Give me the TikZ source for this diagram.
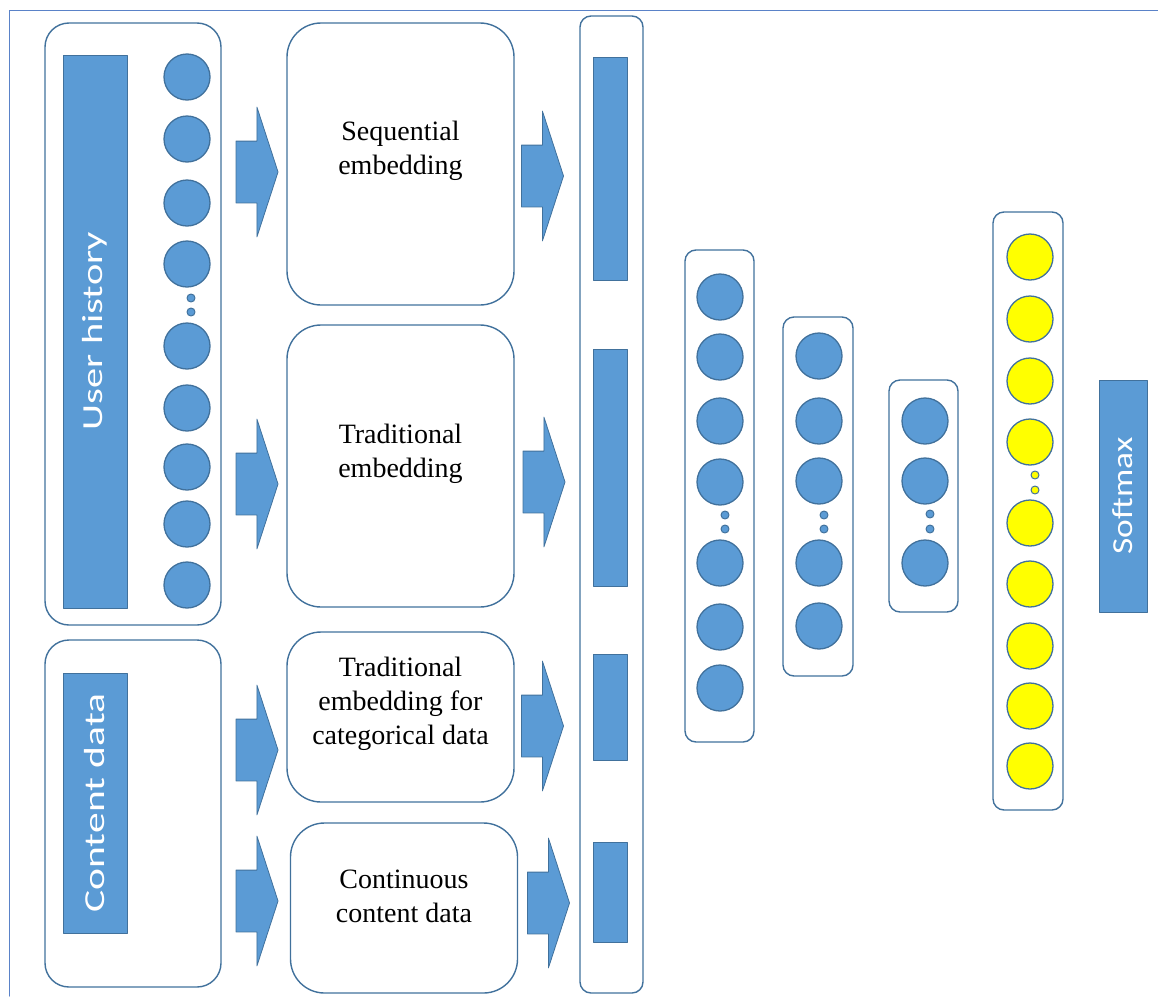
\documentclass[tikz,border=0pt]{standalone}
\usepackage{fontspec}
\setmainfont{Liberation Serif}
\newfontfamily\barfont{Carlito}
\usepackage{graphicx}
\usetikzlibrary{shapes.arrows}
\usetikzlibrary{positioning}
\definecolor{unitblue}{RGB}{91,155,213}
\definecolor{lineblue}{RGB}{65,113,156}
\definecolor{frameblue}{RGB}{90,130,200}
\definecolor{outyellow}{RGB}{255,255,0}
\begin{document}
\begin{tikzpicture}[x=1pt,y=-1pt,line cap=round,line join=round,
  panel/.style={draw=lineblue,line width=1.4pt,rounded corners=24pt,inner sep=0pt},
  embbox/.style={draw=lineblue,line width=1.4pt,rounded corners=34pt,minimum width=227,inner sep=0pt},
  layer/.style={draw=lineblue,line width=1.4pt,rounded corners=11pt,inner sep=0pt},
  bar/.style={draw=lineblue,line width=1pt,fill=unitblue,inner sep=0pt,text=white},
  unit/.style={circle,draw=lineblue,line width=1.3pt,fill=unitblue,minimum size=46,inner sep=0pt},
  outunit/.style={unit,fill=outyellow},
  gap/.style={circle,draw=lineblue,line width=1pt,fill=unitblue,minimum size=8,inner sep=0pt},
  outgap/.style={gap,fill=outyellow},
  caption/.style={align=center,font=\fontsize{28}{34}\selectfont},
  bartext/.style={rotate=90,text=white,font=\barfont\fontsize{29}{34}\selectfont},
  flow/.style={single arrow,draw=lineblue,line width=0.8pt,fill=unitblue,inner xsep=0pt,inner ysep=30.5pt,
    minimum height=42,single arrow head extend=34pt,single arrow tip angle=144,single arrow head indent=0pt}]
\useasboundingbox (0,0) rectangle (1158,996);
% outer frame
\draw [frameblue,line width=1pt] (9,996) -- (9,10) -- (1160,10);
% input side
\node[panel,minimum width=176,minimum height=602] (hist) at (133,324) {};
\node[bar,minimum width=64,minimum height=553] (histbar) at (95,331.5) {};
\node[bartext] (histtxt) at (95,331) {\resizebox{198pt}{\height}{User history}};
\foreach \y [count=\i] in {77,139,203,264,346,408,467,524,585}
  \node[unit] (h\i) at (187,\y) {};
\node[gap] (hd1) at (191,298) {};
\node[gap] (hd2) at (191,312) {};
\node[panel,minimum width=176,minimum height=347] (cont) at (133,813.5) {};
\node[bar,minimum width=64,minimum height=260] (contbar) at (95,803) {};
\node[bartext] (conttxt) at (95,803) {\resizebox{219pt}{\height}{Content data}};
% embeddings
\node[embbox,minimum height=282] (seq) at (400.5,164) {};
\node[caption] (seqtxt) at (400.5,151) {Sequential\\embedding};
\node[embbox,minimum height=282] (trad) at (400.5,466) {};
\node[caption] (tradtxt) at (400.5,454) {Traditional\\embedding};
\node[embbox,minimum height=170] (catg) at (400.5,717) {};
\node[caption] (catgtxt) at (400.5,704) {Traditional\\embedding for\\categorical data};
\node[embbox,minimum height=170] (cnt) at (404,908) {};
\node[caption] (cnttxt) at (404,896) {Continuous\\content data};
\node[flow] (a1) at (252,172) {};
\node[flow] (a2) at (252,484) {};
\node[flow] (a3) at (252,750) {};
\node[flow] (a4) at (252,901) {};
\node[flow] (b1) at (537.5,176) {};
\node[flow] (b2) at (539,482) {};
\node[flow] (b3) at (537.5,726) {};
\node[flow] (b4) at (543.5,903) {};
% concatenation
\node[layer,minimum width=63,minimum height=977] (concat) at (611.5,504.5) {};
\node[bar,minimum width=34,minimum height=223] (c1) at (610,168.5) {};
\node[bar,minimum width=34,minimum height=237] (c2) at (610,467.5) {};
\node[bar,minimum width=34,minimum height=106] (c3) at (610,707) {};
\node[bar,minimum width=34,minimum height=100] (c4) at (610,892) {};
% hidden layers
\node[layer,minimum width=69,minimum height=492] (l1) at (719.5,496) {};
\foreach \y [count=\i] in {297,357,421,482,563,627,688}
  \node[unit] (l1u\i) at (720,\y) {};
\node[gap] (l1d1) at (725,515) {};
\node[gap] (l1d2) at (725,529) {};
\node[layer,minimum width=70,minimum height=359] (l2) at (818,496.5) {};
\foreach \y [count=\i] in {356,421,481,563,626}
  \node[unit] (l2u\i) at (819,\y) {};
\node[gap] (l2d1) at (824,515) {};
\node[gap] (l2d2) at (824,529) {};
\node[layer,minimum width=69,minimum height=232] (l3) at (923.5,496) {};
\foreach \y [count=\i] in {421,481,563}
  \node[unit] (l3u\i) at (925,\y) {};
\node[gap] (l3d1) at (930,514) {};
\node[gap] (l3d2) at (930,529) {};
% output
\node[layer,minimum width=70,minimum height=598] (out) at (1028,511) {};
\foreach \y [count=\i] in {257,319,381,442,523,584,646,706,766}
  \node[outunit] (o\i) at (1030,\y) {};
\node[outgap] (od1) at (1035,475) {};
\node[outgap] (od2) at (1035,490) {};
\node[bar,minimum width=48,minimum height=232] (soft) at (1123,496) {};
\node[bartext] (softtxt) at (soft) {\resizebox{117pt}{\height}{Softmax}};
\end{tikzpicture}
\end{document}
